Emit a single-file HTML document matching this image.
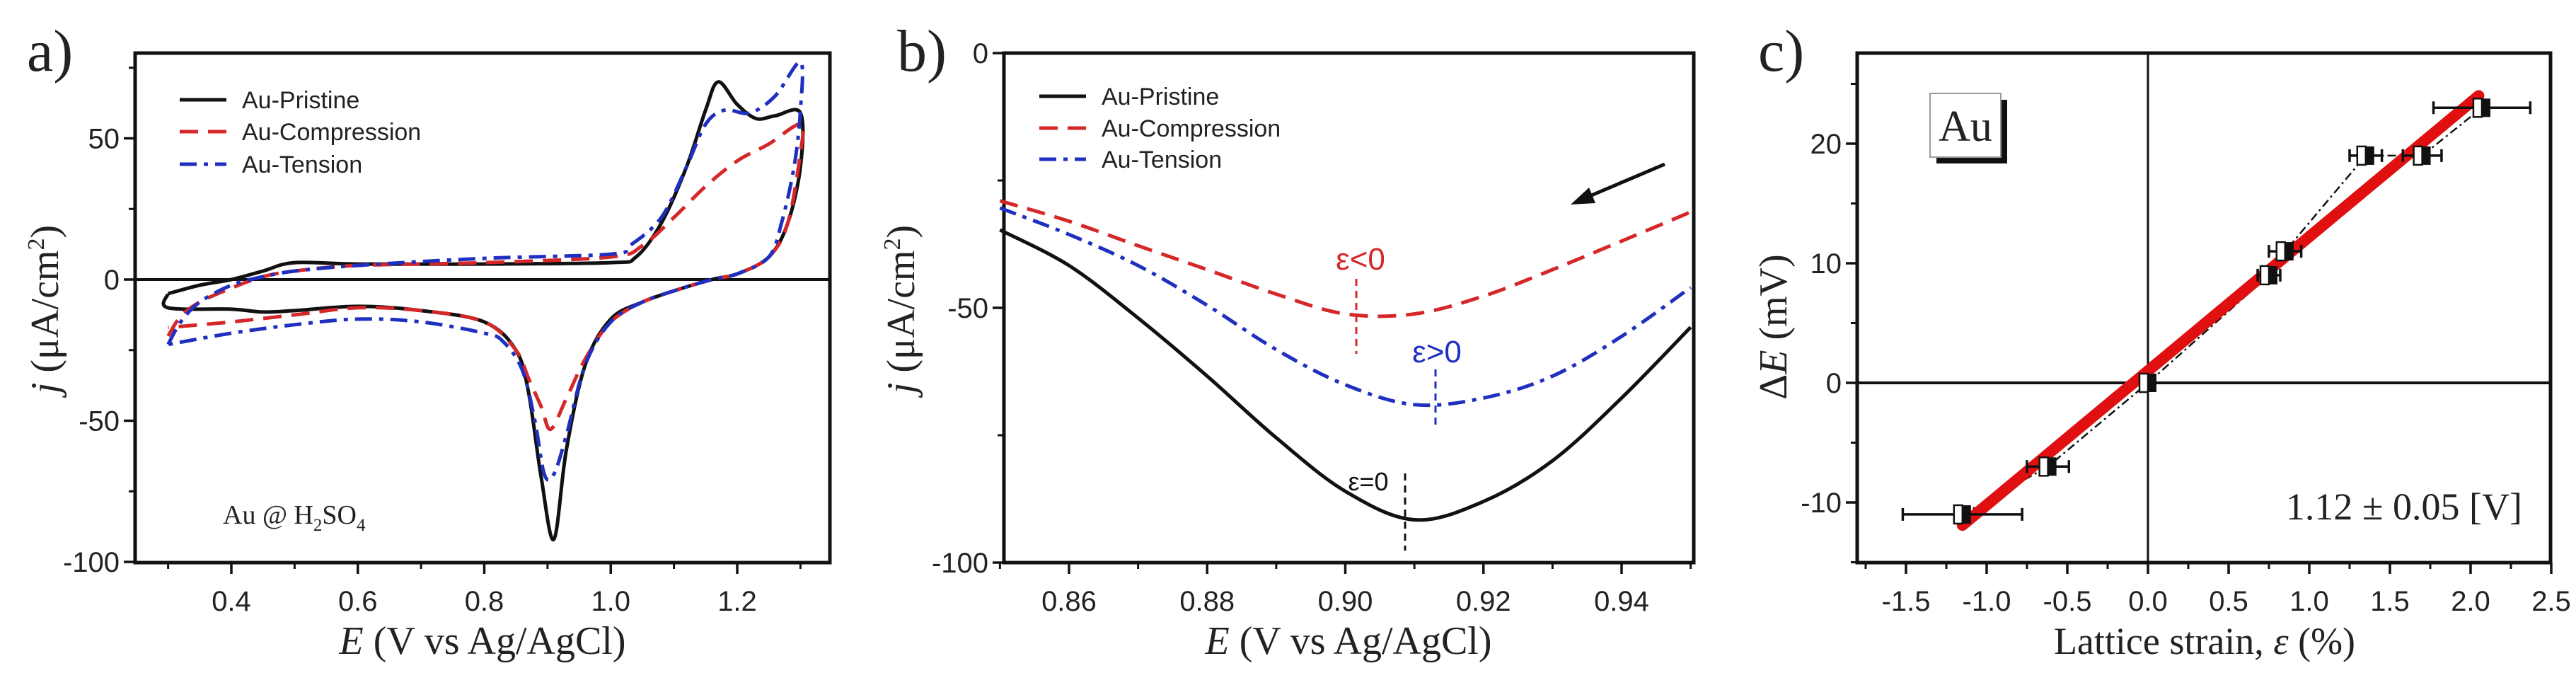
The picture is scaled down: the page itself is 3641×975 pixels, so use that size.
<!DOCTYPE html>
<html><head><meta charset="utf-8"><style>
html,body{margin:0;padding:0;background:#fff}
svg{display:block}
.tk{font-family:"Liberation Sans",sans-serif;font-size:40px;fill:#222}
.ser{font-family:"Liberation Serif",serif;fill:#222}
.lg{font-family:"Liberation Sans",sans-serif;font-size:34px;fill:#222}
</style></head><body>
<svg id="fig" width="3641" height="975" viewBox="0 0 3641 975" xmlns="http://www.w3.org/2000/svg">
<g id="pa"></g>
<g id="pb"></g>
<g id="pc"></g>
</svg>
<script>
// ---------- Panel a data ----------
const aPristineE = [0.30,0.35,0.40,0.45,0.50,0.60,0.80,1.00,1.04,1.08,1.12,1.15,1.17,1.20,1.23,1.26,1.30,1.30,1.28,1.25,1.20,1.16,1.10,1.05,1.00,0.96,0.93,0.91,0.89,0.87,0.85,0.80,0.70,0.60,0.50,0.45,0.40,0.30,0.30];
const aPristineJ = [-5,-2,0,3,6,5.5,5.5,6,8,20,40,60,70,62,57,58,59,40,20,8,2,0,-4,-8,-14,-30,-60,-92,-70,-40,-25,-15,-11,-9.5,-11,-11.5,-10.5,-10,-5];
const aCompE = [0.30,0.32,0.35,0.40,0.45,0.50,0.60,0.80,1.00,1.05,1.10,1.15,1.20,1.25,1.30,1.30,1.28,1.25,1.20,1.16,1.10,1.05,1.00,0.96,0.93,0.905,0.89,0.87,0.85,0.80,0.70,0.60,0.50,0.40,0.30];
const aCompJ = [-20,-13,-8,-3,1,3,5,6,8,12,22,33,42,48,55,45,20,8,2,0,-4,-8,-15,-28,-42,-53,-45,-35,-25,-15,-11,-10,-12.5,-15,-17];
const aTensE = [0.30,0.32,0.35,0.40,0.45,0.50,0.60,0.80,1.00,1.03,1.08,1.12,1.15,1.18,1.22,1.26,1.30,1.30,1.29,1.27,1.25,1.20,1.16,1.10,1.05,1.00,0.96,0.93,0.91,0.895,0.88,0.86,0.83,0.80,0.70,0.60,0.50,0.40,0.30];
const aTensJ = [-23,-15,-8,-2,1,3,5,7.5,9,12,22,40,55,60,59,65,77,60,40,20,8,2,0,-4,-8,-15,-30,-55,-69,-69,-50,-32,-22,-19,-15,-14,-16,-19,-23];
const aXTicks = [0.4,0.6,0.8,1.0,1.2];
const aYTicks = [-100,-50,0,50];
// ---------- Panel b data ----------
const bE = [0.85,0.86,0.87,0.88,0.89,0.90,0.91,0.92,0.93,0.94,0.95];
const bPristine = [-34.7,-41.7,-52,-63.4,-75.5,-86,-91.6,-88,-80,-67.7,-53.8];
const bComp = [-29,-33,-37.8,-42.5,-47.3,-51.2,-51.2,-47.7,-42.5,-36.9,-31.2];
const bTens = [-30.4,-35.6,-41.7,-49.5,-58.2,-65.1,-69,-67.7,-63.4,-55.6,-46];
const bXTicks = [0.86,0.88,0.90,0.92,0.94];
const bYTicks = [-100,-50,0];
// ---------- Panel c data ----------
const cStrain = [-1.15,-0.62,0,0.75,0.85,1.35,1.7,2.07];
const cDeltaE = [-11,-7,0,9,11,19,19,23];
const cXErr = [0.37,0.13,0,0.07,0.1,0.1,0.12,0.3];
const cFitX = [-1.15,2.05];
const cFitY = [-11.9,24];
const cXTicks = [-1.5,-1.0,-0.5,0.0,0.5,1.0,1.5,2.0,2.5];
const cYTicks = [-10,0,10,20];

const NS='http://www.w3.org/2000/svg';
function mk(parent,tag,attrs,text){const e=document.createElementNS(NS,tag);for(const k in attrs)e.setAttribute(k,attrs[k]);if(text!==undefined)e.textContent=text;parent.appendChild(e);return e;}
function lin(d0,d1,r0,r1){return v=>r0+(v-d0)*(r1-r0)/(d1-d0);}
function pathOf(xs,ys,X,Y){return xs.map((v,i)=>(i?'L':'M')+X(v).toFixed(1)+','+Y(ys[i]).toFixed(1)).join('');}
function smooth(xs,ys,X,Y){const p=xs.map((v,i)=>[X(v),Y(ys[i])]);let d='M'+p[0][0]+','+p[0][1];for(let i=0;i<p.length-1;i++){const p0=p[Math.max(0,i-1)],p1=p[i],p2=p[i+1],p3=p[Math.min(p.length-1,i+2)];const c1=[p1[0]+(p2[0]-p0[0])/6,p1[1]+(p2[1]-p0[1])/6];const c2=[p2[0]-(p3[0]-p1[0])/6,p2[1]-(p3[1]-p1[1])/6];d+='C'+c1[0].toFixed(1)+','+c1[1].toFixed(1)+' '+c2[0].toFixed(1)+','+c2[1].toFixed(1)+' '+p2[0].toFixed(1)+','+p2[1].toFixed(1);}return d;}

function frame(g,L,R,T,B,X,Y,xt,yt,xminor,yminor,fmtX,fmtY){
  const box=mk(g,'rect',{x:L,y:T,width:R-L,height:B-T,fill:'none',stroke:'#111','stroke-width':5});
  
  
  xminor.forEach(v=>{const t=mk(g,'line',{x1:X(v),x2:X(v),y1:B,y2:B+9,stroke:'#111','stroke-width':3});});
  yminor.forEach(v=>{const t=mk(g,'line',{x1:L,x2:L-9,y1:Y(v),y2:Y(v),stroke:'#111','stroke-width':3});});
  xt.forEach(v=>{const t=mk(g,'line',{x1:X(v),x2:X(v),y1:B,y2:B+16,stroke:'#111','stroke-width':3.5});
    const l=mk(g,'text',{x:X(v),y:B+68,'text-anchor':'middle',class:'tk'},fmtX(v));});
  yt.forEach(v=>{const t=mk(g,'line',{x1:L,x2:L-16,y1:Y(v),y2:Y(v),stroke:'#111','stroke-width':3.5});
    const l=mk(g,'text',{x:L-22,y:Y(v)+14,'text-anchor':'end',class:'tk'},fmtY(v));});
}
function seq(a,b,s){const r=[];for(let v=a;v<=b+1e-9;v+=s)r.push(+v.toFixed(4));return r;}
const DASH='26,14', DD='24,10,6,10';
function legend(g,x,ys){
  const items=[['Au-Pristine','#111',''],['Au-Compression','#d62728',DASH],['Au-Tension','#1f2fbf',DD]];
  items.forEach((it,i)=>{const ln=mk(g,'line',{x1:x,x2:x+66,y1:ys[i],y2:ys[i],stroke:it[1],'stroke-width':5,'stroke-dasharray':it[2]});
    
    const t=mk(g,'text',{x:x+88,y:ys[i]+12,class:'lg'},it[0]);});
}

// ===== Panel a =====
(function(){
  const g=document.getElementById('pa');
  const L=191,R=1173,T=75,B=795;
  const X=lin(0.4,1.2,327,1042), Y=lin(0,-100,395,794);
  frame(g,L,R,T,B,X,Y,aXTicks,aYTicks,seq(0.3,1.3,0.1),seq(-75,75,25),v=>v.toFixed(1),v=>String(v));
  const z=mk(g,'line',{x1:L,x2:R,y1:Y(0),y2:Y(0),stroke:'#111','stroke-width':4});
  
  const s1=mk(g,'path',{d:smooth(aPristineE,aPristineJ,X,Y),fill:'none',stroke:'#111','stroke-width':5});
  
  const s2=mk(g,'path',{d:smooth(aCompE,aCompJ,X,Y),fill:'none',stroke:'#d62728','stroke-width':5,'stroke-dasharray':DASH});
  
  const s3=mk(g,'path',{d:smooth(aTensE,aTensJ,X,Y),fill:'none',stroke:'#1f2fbf','stroke-width':5,'stroke-dasharray':DD});
  
  legend(g,254,[141,186,232]);
  const lab=mk(g,'text',{x:38,y:100,class:'ser','font-size':84},'a)');
  const t=mk(g,'text',{x:315,y:740,class:'ser','font-size':38});t.innerHTML='Au @ H<tspan font-size="25" dy="10">2</tspan><tspan dy="-10">SO</tspan><tspan font-size="25" dy="10">4</tspan>';
  
  const xt=mk(g,'text',{x:682,y:924,'text-anchor':'middle',class:'ser','font-size':56});xt.innerHTML='<tspan font-style="italic">E</tspan> (V vs Ag/AgCl)';
  
  const yt=mk(g,'text',{x:0,y:0,'text-anchor':'middle',class:'ser','font-size':56,transform:'translate(82,437) rotate(-90)'});yt.innerHTML='<tspan font-style="italic">j</tspan> (μA/cm<tspan font-size="34" dy="-20">2</tspan><tspan dy="20">)</tspan>';
  
})();

// ===== Panel b =====
(function(){
  const g=document.getElementById('pb');
  const L=1419,R=2394,T=75,B=795;
  const X=lin(0.86,0.94,1511,2292), Y=lin(0,-100,75,795);
  frame(g,L,R,T,B,X,Y,bXTicks,bYTicks,seq(0.85,0.95,0.01),seq(-75,-25,25),v=>v.toFixed(2),v=>String(v));
  const s1=mk(g,'path',{d:smooth(bE,bPristine,X,Y),fill:'none',stroke:'#111','stroke-width':5});
  
  const s2=mk(g,'path',{d:smooth(bE,bComp,X,Y),fill:'none',stroke:'#d62728','stroke-width':5,'stroke-dasharray':DASH});
  
  const s3=mk(g,'path',{d:smooth(bE,bTens,X,Y),fill:'none',stroke:'#1f2fbf','stroke-width':5,'stroke-dasharray':DD});
  
  legend(g,1469,[136,181,225]);
  const marks=[['ε<0','#d62728',1923,381,1917,394,500,44],['ε>0','#1f2fbf',2031,512,2029,522,606,44],['ε=0','#111',1934,693,1986,669,778,36]];
  marks.forEach(m=>{const t=mk(g,'text',{x:m[2],y:m[3],'text-anchor':'middle',class:'lg','font-size':m[7]},m[0]);t.style.fill=m[1];t.style.fontSize=m[7]+'px';
    
    const l=mk(g,'line',{x1:m[4],x2:m[4],y1:m[5],y2:m[6],stroke:m[1],'stroke-width':3,'stroke-dasharray':'10,7'});
    });
  const ar=mk(g,'line',{x1:2353,y1:232,x2:2240,y2:280,stroke:'#111','stroke-width':5});
  const ah=mk(g,'polygon',{points:'2220,289 2246,265 2255,287',fill:'#111'});
  const lab=mk(g,'text',{x:1268,y:100,class:'ser','font-size':84},'b)');
  const xt=mk(g,'text',{x:1906,y:924,'text-anchor':'middle',class:'ser','font-size':56});xt.innerHTML='<tspan font-style="italic">E</tspan> (V vs Ag/AgCl)';
  
  const yt=mk(g,'text',{x:0,y:0,'text-anchor':'middle',class:'ser','font-size':56,transform:'translate(1292,437) rotate(-90)'});yt.innerHTML='<tspan font-style="italic">j</tspan> (μA/cm<tspan font-size="34" dy="-20">2</tspan><tspan dy="20">)</tspan>';
  
})();

// ===== Panel c =====
(function(){
  const g=document.getElementById('pc');
  const L=2625,R=3605,T=75,B=795;
  const X=lin(0,2.5,3036,3606), Y=lin(0,10,541,372);
  frame(g,L,R,T,B,X,Y,cXTicks,cYTicks,seq(-1.75,2.25,0.25),seq(-15,25,5),v=>v.toFixed(1),v=>String(v));
  const vx=mk(g,'line',{x1:X(0),x2:X(0),y1:T,y2:B,stroke:'#111','stroke-width':3});
  const hz=mk(g,'line',{x1:L,x2:R,y1:Y(0),y2:Y(0),stroke:'#111','stroke-width':4});
  const con=mk(g,'path',{d:pathOf(cStrain,cDeltaE,X,Y),fill:'none',stroke:'#111','stroke-width':2.5,'stroke-dasharray':'12,5,3,5'});
  
  const fit=mk(g,'line',{x1:X(cFitX[0]),y1:Y(cFitY[0]),x2:X(cFitX[1]),y2:Y(cFitY[1]),stroke:'#e01010','stroke-width':16,'stroke-linecap':'round'});
  
  cStrain.forEach((e,i)=>{
    const cx=X(e),cy=Y(cDeltaE[i]);
    if(cXErr[i]>0){const eb=mk(g,'path',{d:`M${X(e-cXErr[i])},${cy}H${X(e+cXErr[i])}M${X(e-cXErr[i])},${cy-9}v18M${X(e+cXErr[i])},${cy-9}v18`,stroke:'#111','stroke-width':3.5,fill:'none'});
      }
    const w=mk(g,'rect',{x:cx-12,y:cy-13,width:12,height:26,fill:'#fff',stroke:'#111','stroke-width':2.5});
    
    const b=mk(g,'rect',{x:cx,y:cy-13,width:12,height:26,fill:'#111'});
    
  });
  const sh=mk(g,'rect',{x:2737,y:141,width:100,height:90,fill:'#111'});
  const bx=mk(g,'rect',{x:2728,y:132,width:100,height:90,fill:'#fff',stroke:'#999','stroke-width':2});
  const au=mk(g,'text',{x:2778,y:199,'text-anchor':'middle',class:'ser','font-size':62},'Au');
  const sl=mk(g,'text',{x:3565,y:734,'text-anchor':'end',class:'ser','font-size':54},'1.12 ± 0.05 [V]');
  const lab=mk(g,'text',{x:2485,y:100,class:'ser','font-size':84},'c)');
  const xt=mk(g,'text',{x:3116,y:924,'text-anchor':'middle',class:'ser','font-size':54});xt.innerHTML='Lattice strain, <tspan font-style="italic">ε</tspan> (%)';
  
  const yt=mk(g,'text',{x:0,y:0,'text-anchor':'middle',class:'ser','font-size':56,transform:'translate(2525,462) rotate(-90)'});yt.innerHTML='Δ<tspan font-style="italic">E</tspan> (mV)';
  
})();
</script>
</body></html>
